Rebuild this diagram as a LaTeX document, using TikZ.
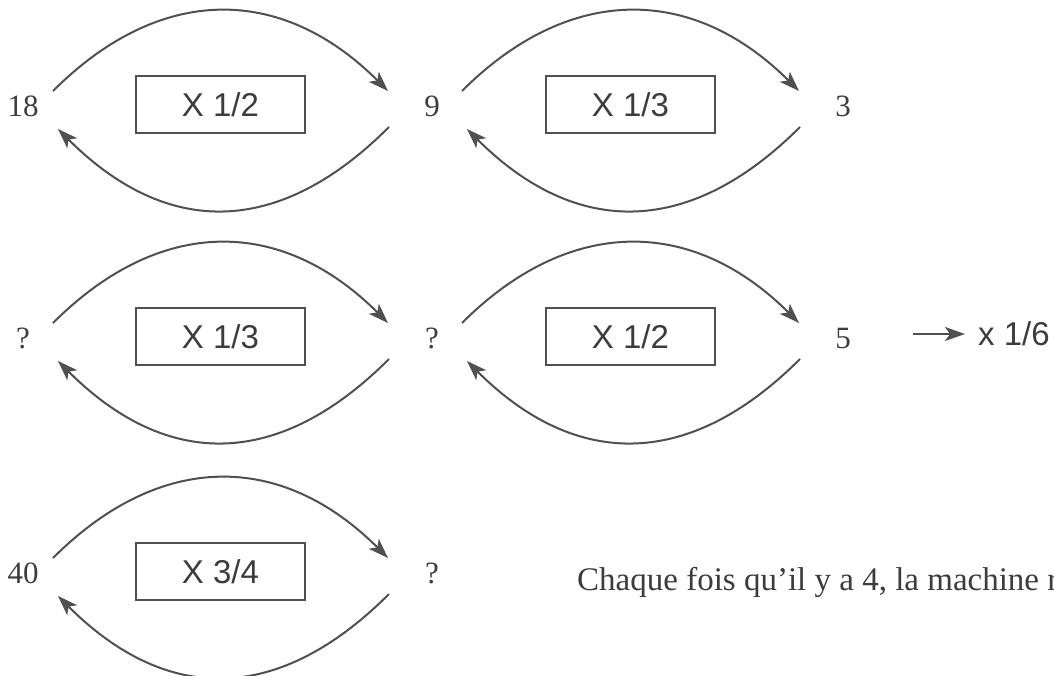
\documentclass[tikz,border=0pt]{standalone}
\usepackage{fontspec}
\setmainfont{Liberation Serif}
\newfontfamily\boxfont{Liberation Sans}
\usetikzlibrary{arrows.meta}
\definecolor{ink}{HTML}{3C3C3C}
\definecolor{wire}{HTML}{505050}
\tikzset{
  num/.style={font=\fontsize{31}{36}\selectfont, text=ink, inner sep=0pt},
  opbox/.style={draw=wire, line width=2pt, minimum width=169pt, minimum height=57pt,
    inner sep=0pt, font=\boxfont\fontsize{33}{36}\selectfont, text=ink},
  arc/.style={draw=wire, line width=2pt,
    -{Stealth[length=20pt,width=14pt,inset=5pt]}},
  note/.style={font=\fontsize{33}{36}\selectfont, text=ink, inner sep=0pt, anchor=base west},
  side/.style={font=\boxfont\fontsize{33}{36}\selectfont, text=ink, inner sep=0pt, anchor=west}
}
\begin{document}
\begin{tikzpicture}[x=1pt,y=-1pt]
\useasboundingbox (0,0) rectangle (1054,675);
\clip (0,0) rectangle (1054,675);
% labels
\node[num] (n11) at (23,106) {18};
\node[num] (n12) at (432,106) {9};
\node[num] (n13) at (843,106) {3};
\node[num] (n21) at (23,338) {?};
\node[num] (n22) at (432,338) {?};
\node[num] (n23) at (843,338) {5};
\node[num] (n31) at (23,573) {40};
\node[num] (n32) at (432,573) {?};
% boxes
\node[opbox] (b1) at (220.5,104.5) {X 1/2};
\node[opbox] (b2) at (630.5,104.5) {X 1/3};
\node[opbox] (b3) at (220.5,336.5) {X 1/3};
\node[opbox] (b4) at (630.5,336.5) {X 1/2};
\node[opbox] (b5) at (220.5,571.5) {X 3/4};
% arcs
\foreach \a/\b in {n11/n12, n12/n13, n21/n22, n22/n23, n31/n32}{
  \draw[arc] ([shift={(30,-15)}]\a.center) .. controls +(-45:151) and +(-135:151) .. ([shift={(-44,-15)}]\b.center);
  \draw[arc] ([shift={(-43,21)}]\b.center) .. controls +(135:155) and +(45:155) .. ([shift={(35,23)}]\a.center);
}
% side note
\node[side] (x16) at (978,334) {x 1/6};
\draw[arc] ([xshift=70pt]n23.center |- x16.west) -- ([xshift=-13pt]x16.west);
\node[note] (txt) at (577,590) {Chaque fois qu’il y a 4, la machine re};
\end{tikzpicture}
\end{document}
